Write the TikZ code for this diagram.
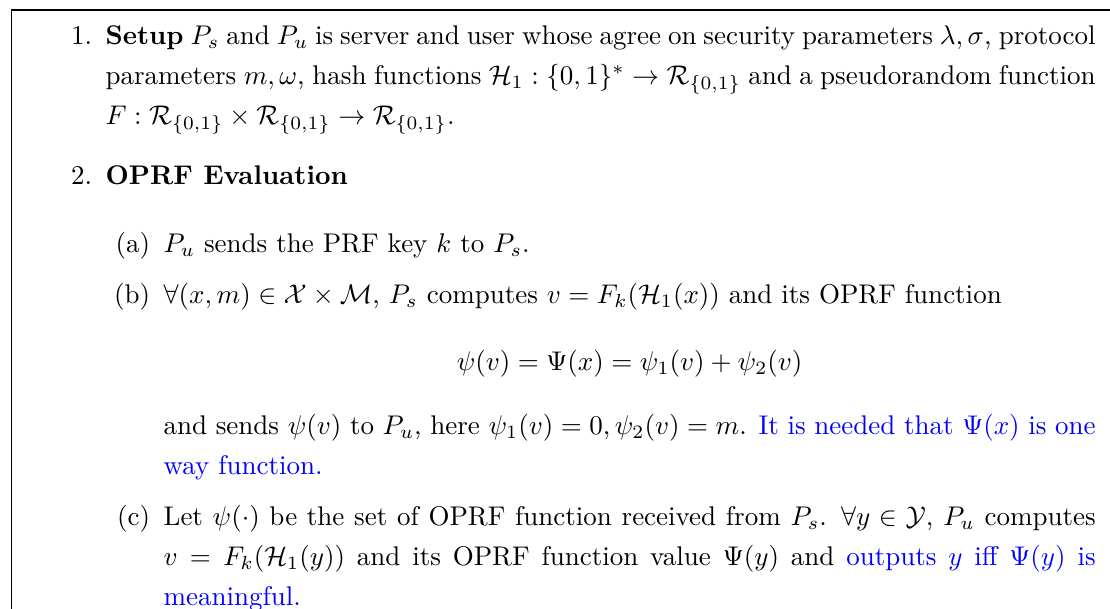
\documentclass[tikz,border=0pt]{standalone}
\usepackage{amsmath,amssymb}
\usepackage{xcolor}

\tikzset{
  frameline/.style={line width=0.45pt},
  protobox/.style={anchor=north west, inner sep=0pt, text width=395.6pt, align=justify}
}

\begin{document}
\begin{tikzpicture}[x=1pt,y=1pt]
  \useasboundingbox (0,0) rectangle (411.1,-225.2);
  \coordinate (fbl) at (4.26,-240);
  \coordinate (ftr) at (420,-3.7);
  % Draw the frame (open at the bottom and right)
  \draw[frameline] (fbl) |- (ftr);
  \node[protobox] (proto) at (10,-1.4) {%
    \linespread{1.234}\selectfont
    \setlength{\abovedisplayskip}{10pt}\setlength{\belowdisplayskip}{9.2pt}%
    \begin{list}{\arabic{enumi}.}{\usecounter{enumi}\setlength{\leftmargin}{28.9pt}%
        \setlength{\labelsep}{5pt}\setlength{\itemsep}{7.4pt}\setlength{\parsep}{0pt}%
        \setlength{\topsep}{0pt}}
      \item \textbf{Setup} $P_s$ and $P_u$ is server and user whose agree on security parameters $\lambda,\sigma$, protocol\linebreak parameters $m,\omega$, hash functions $\mathcal{H}_1:\{0,1\}^*\rightarrow\mathcal{R}_{\{0,1\}}$ and a pseudorandom function\linebreak $F:\mathcal{R}_{\{0,1\}}\times\mathcal{R}_{\{0,1\}}\rightarrow\mathcal{R}_{\{0,1\}}$.
      \item \textbf{OPRF Evaluation}
      \begin{list}{(\alph{enumii})}{\usecounter{enumii}\setlength{\leftmargin}{21.5pt}%
          \setlength{\labelsep}{5pt}\setlength{\itemsep}{4.1pt}\setlength{\parsep}{0pt}%
          \setlength{\topsep}{10.3pt}}
        \item $P_u$ sends the PRF key $k$ to $P_s$.
        \item $\forall(x,m)\in\mathcal{X}\times\mathcal{M}$, $P_s$ computes $v=F_k(\mathcal{H}_1(x))$ and its OPRF function
          \[\psi(v)=\Psi(x)=\psi_1(v)+\psi_2(v)\]
          and sends $\psi(v)$ to $P_u$, here $\psi_1(v)=0,\psi_2(v)=m$. \textcolor{blue}{It is needed that $\Psi(x)$ is one\linebreak way function.}
        \item Let $\psi(\cdot)$ be the set of OPRF function received from $P_s$. $\forall y\in\mathcal{Y}$, $P_u$ computes\linebreak $v=F_k(\mathcal{H}_1(y))$ and its OPRF function value $\Psi(y)$ and \textcolor{blue}{outputs $y$ iff $\Psi(y)$ is\linebreak meaningful.}
      \end{list}
    \end{list}};
\end{tikzpicture}
\end{document}
